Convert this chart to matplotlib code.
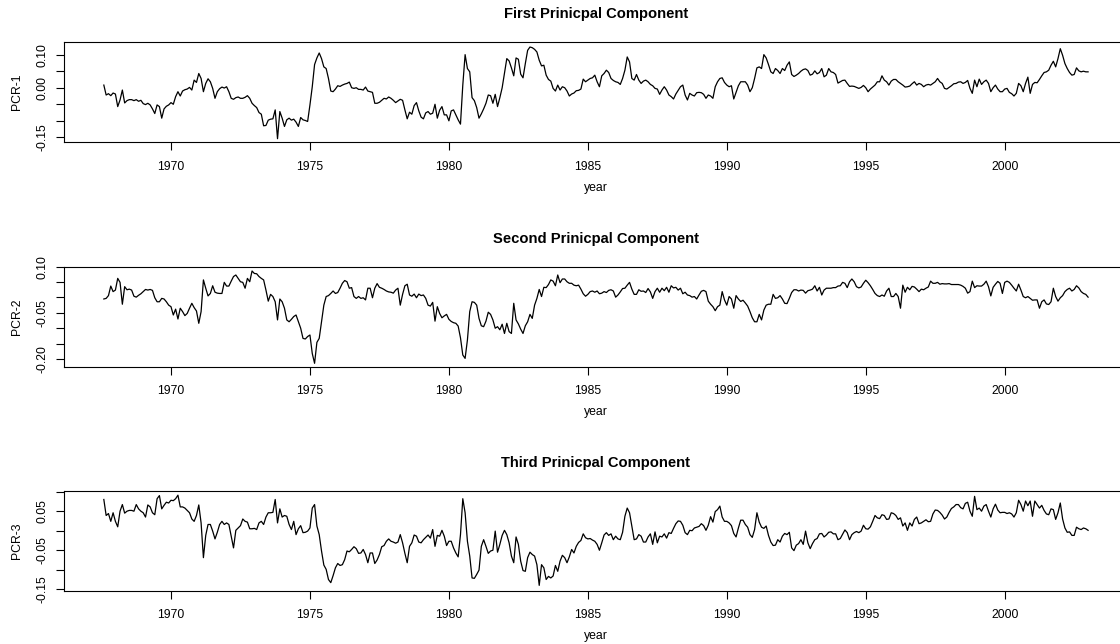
import numpy as np
import matplotlib
matplotlib.use("Agg")
import matplotlib.pyplot as plt

plt.rcParams['font.family'] = ['Liberation Sans', 'DejaVu Sans']
plt.rcParams['axes.unicode_minus'] = False

# monthly series, Aug 1967 .. Jan 2003
start_year = 1967 + 7 / 12

pc1 = [
    0.008, -0.022, -0.018, -0.024, -0.016,
    -0.019, -0.057, -0.037, -0.007, -0.046, -0.039, -0.036, -0.036, -0.039, -0.036, -0.041, -0.038,
    -0.048, -0.051, -0.047, -0.052, -0.064, -0.078, -0.052, -0.057, -0.092, -0.064, -0.056, -0.052,
    -0.045, -0.050, -0.027, -0.012, -0.025, -0.010, -0.006, -0.004, 0.001, -0.007, 0.023, 0.016,
    0.043, 0.028, -0.012, 0.013, 0.027, 0.018, -0.002, -0.032, -0.012, -0.003, 0.002, -0.001,
    0.003, -0.012, -0.032, -0.035, -0.030, -0.028, -0.032, -0.032, -0.029, -0.024, -0.032, -0.047,
    -0.054, -0.060, -0.075, -0.080, -0.115, -0.114, -0.098, -0.095, -0.094, -0.067, -0.154, -0.072,
    -0.092, -0.117, -0.097, -0.092, -0.098, -0.095, -0.104, -0.117, -0.090, -0.097, -0.099, -0.102,
    -0.052, 0.003, 0.070, 0.090, 0.105, 0.088, 0.063, 0.058, 0.028, -0.010, -0.012, -0.004,
    0.006, 0.004, 0.008, 0.011, 0.013, 0.017, 0.000, -0.002, 0.000, -0.005, -0.005, -0.007,
    0.002, -0.010, -0.012, -0.014, -0.047, -0.047, -0.044, -0.038, -0.032, -0.034, -0.028, -0.032,
    -0.038, -0.045, -0.040, -0.035, -0.038, -0.067, -0.094, -0.074, -0.080, -0.054, -0.045, -0.070,
    -0.089, -0.094, -0.076, -0.072, -0.080, -0.077, -0.050, -0.092, -0.068, -0.057, -0.082, -0.082,
    -0.100, -0.070, -0.067, -0.082, -0.097, -0.110, 0.008, 0.100, 0.058, 0.048, -0.030, -0.039,
    -0.060, -0.092, -0.079, -0.064, -0.047, -0.022, -0.024, -0.047, -0.020, -0.057, -0.030, 0.000,
    0.043, 0.088, 0.081, 0.060, 0.036, 0.090, 0.086, 0.041, 0.030, 0.073, 0.113, 0.123,
    0.121, 0.116, 0.108, 0.083, 0.066, 0.068, 0.038, 0.025, 0.020, -0.002, -0.010, 0.008,
    -0.007, 0.003, 0.000, -0.010, -0.025, -0.019, -0.016, -0.009, -0.008, -0.004, 0.026, 0.018,
    0.023, 0.028, 0.030, 0.038, 0.018, 0.003, 0.036, 0.043, 0.053, 0.046, 0.028, 0.022,
    0.018, 0.016, 0.010, 0.028, 0.053, 0.093, 0.078, 0.028, 0.023, 0.040, 0.023, 0.013,
    0.020, 0.023, 0.018, 0.010, 0.006, -0.002, -0.004, -0.020, -0.007, 0.003, -0.007, -0.022,
    -0.027, -0.034, -0.019, -0.008, 0.003, 0.008, -0.022, -0.037, -0.017, -0.022, -0.025, -0.015,
    -0.014, -0.015, -0.020, -0.032, -0.022, -0.025, -0.032, 0.003, 0.018, 0.028, 0.030, 0.016,
    0.008, 0.003, 0.006, -0.034, -0.014, 0.006, 0.018, 0.018, 0.018, 0.008, -0.012, 0.000,
    0.028, 0.060, 0.063, 0.058, 0.100, 0.090, 0.070, 0.048, 0.043, 0.058, 0.052, 0.043,
    0.058, 0.052, 0.068, 0.078, 0.040, 0.034, 0.038, 0.043, 0.050, 0.055, 0.057, 0.052,
    0.038, 0.041, 0.051, 0.042, 0.046, 0.058, 0.033, 0.038, 0.058, 0.048, 0.046, 0.040,
    0.014, 0.018, 0.022, 0.023, 0.013, 0.004, 0.005, 0.004, 0.001, -0.002, 0.001, 0.007,
    0.000, -0.012, -0.004, 0.002, 0.008, 0.018, 0.018, 0.036, 0.023, 0.018, 0.008, 0.020,
    0.025, 0.025, 0.018, 0.013, 0.008, 0.002, 0.003, 0.005, 0.012, 0.018, 0.008, 0.013,
    0.010, 0.003, 0.008, 0.010, 0.008, 0.013, 0.018, 0.028, 0.018, 0.013, -0.002, -0.004,
    0.001, 0.006, 0.012, 0.013, 0.017, 0.018, 0.013, 0.016, 0.022, -0.002, -0.017, 0.023,
    0.003, 0.026, 0.010, 0.018, 0.023, 0.013, -0.012, 0.000, 0.008, -0.004, -0.012, -0.012,
    -0.004, -0.002, -0.014, -0.018, -0.025, -0.017, 0.013, 0.006, -0.012, 0.013, 0.032, -0.017,
    0.010, 0.016, 0.015, 0.025, 0.036, 0.046, 0.048, 0.053, 0.068, 0.080, 0.063, 0.088,
    0.118, 0.098, 0.073, 0.058, 0.046, 0.038, 0.040, 0.060, 0.051, 0.048, 0.050, 0.048,
    0.048,
]

pc2 = [
    -0.005, -0.003, 0.006, 0.037, 0.019,
    0.024, 0.062, 0.049, -0.022, 0.035, 0.025, 0.027, 0.024, 0.004, 0.001, 0.007, 0.012,
    0.019, 0.026, 0.024, 0.026, 0.023, -0.001, -0.014, -0.014, -0.003, -0.005, -0.014, -0.025,
    -0.030, -0.057, -0.038, -0.070, -0.035, -0.046, -0.059, -0.052, -0.035, -0.019, -0.033, -0.044,
    -0.084, -0.046, 0.057, 0.030, 0.005, 0.013, 0.038, 0.017, 0.014, 0.013, 0.013, 0.049,
    0.037, 0.037, 0.053, 0.068, 0.073, 0.062, 0.051, 0.049, 0.030, 0.062, 0.051, 0.086,
    0.078, 0.077, 0.068, 0.062, 0.057, 0.024, -0.012, 0.010, 0.003, -0.014, -0.073, -0.005,
    -0.014, -0.035, -0.073, -0.079, -0.071, -0.062, -0.057, -0.079, -0.100, -0.133, -0.135, -0.127,
    -0.122, -0.182, -0.214, -0.146, -0.133, -0.079, -0.025, 0.003, 0.006, 0.013, 0.021, 0.013,
    0.016, 0.030, 0.046, 0.055, 0.051, 0.030, 0.032, 0.003, -0.003, 0.003, -0.003, -0.001,
    -0.008, 0.030, 0.030, -0.001, 0.030, 0.045, 0.033, 0.030, 0.026, 0.021, 0.018, 0.017,
    0.014, 0.024, 0.030, -0.025, 0.010, 0.038, 0.043, 0.008, 0.004, 0.011, -0.001, 0.011,
    0.006, 0.008, -0.003, -0.025, -0.028, -0.016, -0.077, -0.030, -0.052, -0.066, -0.060, -0.055,
    -0.071, -0.078, -0.082, -0.084, -0.093, -0.131, -0.187, -0.198, -0.138, -0.046, -0.014, -0.016,
    -0.025, -0.068, -0.092, -0.095, -0.077, -0.048, -0.055, -0.073, -0.100, -0.095, -0.105, -0.087,
    -0.117, -0.084, -0.111, -0.117, -0.019, -0.073, -0.086, -0.103, -0.117, -0.092, -0.079, -0.055,
    -0.068, -0.025, -0.003, 0.026, 0.003, 0.033, 0.032, 0.042, 0.057, 0.053, 0.038, 0.073,
    0.048, 0.060, 0.060, 0.051, 0.046, 0.046, 0.040, 0.038, 0.040, 0.027, 0.012, 0.004,
    0.010, 0.019, 0.021, 0.017, 0.021, 0.012, 0.014, 0.019, 0.016, 0.023, 0.025, 0.021,
    0.001, 0.008, 0.018, 0.029, 0.030, 0.040, 0.049, 0.027, 0.010, 0.010, 0.025, 0.020,
    0.021, 0.016, 0.029, 0.018, -0.003, 0.019, 0.030, 0.017, 0.030, 0.022, 0.033, 0.017,
    0.038, 0.031, 0.033, 0.024, 0.030, 0.012, 0.017, 0.008, 0.006, 0.001, 0.003, -0.005,
    0.008, 0.020, 0.023, 0.019, -0.012, -0.022, -0.030, -0.043, -0.030, -0.025, 0.019, -0.008,
    -0.025, 0.003, -0.005, -0.035, 0.006, -0.005, -0.013, -0.009, -0.018, -0.028, -0.046, -0.066,
    -0.079, -0.079, -0.055, -0.073, -0.041, -0.025, -0.022, -0.022, 0.010, -0.003, -0.001, 0.006,
    -0.005, -0.019, -0.020, -0.003, 0.016, 0.025, 0.025, 0.021, 0.024, 0.023, 0.014, 0.022,
    0.024, 0.027, 0.038, 0.021, 0.033, 0.008, 0.024, 0.030, 0.030, 0.030, 0.032, 0.032,
    0.037, 0.038, 0.049, 0.046, 0.032, 0.051, 0.060, 0.051, 0.035, 0.031, 0.034, 0.046,
    0.056, 0.048, 0.038, 0.026, 0.013, 0.006, 0.003, 0.008, 0.004, 0.021, 0.030, 0.003,
    0.003, 0.013, 0.003, -0.035, 0.040, 0.017, 0.033, 0.025, 0.036, 0.034, 0.027, 0.019,
    0.027, 0.025, 0.030, 0.034, 0.053, 0.046, 0.046, 0.049, 0.043, 0.045, 0.044, 0.044,
    0.045, 0.042, 0.042, 0.042, 0.042, 0.040, 0.036, 0.030, 0.014, 0.019, 0.053, 0.032,
    0.038, 0.037, 0.037, 0.043, 0.053, 0.035, 0.005, 0.033, 0.043, 0.052, 0.046, 0.013,
    0.049, 0.053, 0.049, 0.040, 0.030, 0.021, 0.043, 0.024, 0.003, -0.001, 0.003, -0.003,
    -0.009, -0.008, -0.008, -0.035, -0.014, -0.008, -0.021, -0.023, -0.014, 0.030, 0.003, -0.012,
    -0.001, 0.006, 0.019, 0.026, 0.030, 0.021, 0.026, 0.038, 0.031, 0.019, 0.013, 0.010,
    0.001,
]

pc3 = [
    0.080, 0.039, 0.044, 0.024, 0.046,
    0.024, 0.010, 0.050, 0.067, 0.045, 0.050, 0.052, 0.052, 0.050, 0.067, 0.056, 0.050,
    0.046, 0.035, 0.066, 0.061, 0.046, 0.041, 0.082, 0.090, 0.056, 0.065, 0.073, 0.071,
    0.078, 0.077, 0.082, 0.091, 0.061, 0.061, 0.058, 0.052, 0.046, 0.030, 0.024, 0.039,
    0.066, 0.020, -0.069, -0.012, 0.016, 0.016, -0.001, -0.021, -0.004, 0.016, 0.024, 0.016,
    0.020, 0.016, -0.014, -0.044, 0.001, 0.007, 0.013, 0.030, 0.024, 0.022, 0.005, 0.005,
    0.006, 0.003, 0.020, 0.024, 0.016, 0.035, 0.046, 0.046, 0.047, 0.080, 0.020, 0.056,
    0.035, 0.039, 0.037, 0.016, 0.003, 0.024, -0.010, 0.005, 0.013, -0.005, -0.004, -0.001,
    0.007, 0.058, 0.067, 0.012, -0.010, -0.052, -0.088, -0.099, -0.125, -0.133, -0.115, -0.095,
    -0.084, -0.089, -0.087, -0.074, -0.052, -0.054, -0.048, -0.041, -0.046, -0.058, -0.057, -0.048,
    -0.061, -0.082, -0.057, -0.057, -0.084, -0.075, -0.061, -0.041, -0.038, -0.027, -0.021, -0.027,
    -0.029, -0.032, -0.029, -0.010, -0.031, -0.058, -0.082, -0.040, -0.031, -0.011, -0.014, -0.029,
    -0.031, -0.023, -0.017, -0.011, -0.019, 0.003, -0.040, -0.012, -0.014, 0.001, -0.014, -0.038,
    -0.027, -0.027, -0.044, -0.057, -0.067, -0.010, 0.082, 0.046, -0.027, -0.065, -0.121, -0.122,
    -0.112, -0.101, -0.040, -0.023, -0.040, -0.058, -0.052, -0.050, -0.001, -0.055, -0.035, -0.012,
    0.001, -0.010, -0.031, -0.065, -0.082, -0.016, -0.035, -0.078, -0.102, -0.104, -0.069, -0.055,
    -0.061, -0.065, -0.087, -0.140, -0.087, -0.095, -0.125, -0.117, -0.121, -0.116, -0.089, -0.104,
    -0.078, -0.063, -0.069, -0.082, -0.067, -0.048, -0.057, -0.040, -0.030, -0.025, -0.008, -0.018,
    -0.021, -0.020, -0.024, -0.027, -0.035, -0.050, -0.031, -0.011, -0.005, -0.012, -0.008, -0.023,
    -0.014, -0.021, -0.023, -0.004, 0.037, 0.058, 0.046, 0.012, -0.023, -0.021, -0.010, -0.014,
    -0.029, -0.029, -0.016, -0.008, -0.035, -0.003, -0.031, -0.014, -0.016, -0.008, -0.019, -0.005,
    -0.007, 0.006, 0.018, 0.025, 0.024, 0.014, -0.005, -0.010, 0.001, 0.000, 0.007, 0.009,
    0.011, 0.018, 0.013, 0.001, 0.014, 0.036, 0.022, 0.049, 0.054, 0.063, 0.035, 0.024,
    0.024, 0.020, 0.013, -0.007, -0.016, 0.007, 0.027, 0.027, 0.016, 0.009, -0.010, -0.017,
    0.003, 0.046, 0.022, 0.009, 0.006, 0.012, -0.012, -0.029, -0.038, -0.037, -0.023, -0.029,
    -0.014, -0.007, -0.010, -0.004, -0.044, -0.051, -0.037, -0.033, -0.023, -0.035, -0.001, -0.031,
    -0.046, -0.033, -0.023, -0.020, -0.008, -0.007, -0.016, -0.011, -0.004, -0.003, -0.008, -0.008,
    -0.023, -0.020, -0.009, 0.002, -0.005, -0.023, -0.010, -0.005, -0.002, -0.005, -0.001, 0.014,
    0.005, 0.004, 0.010, 0.024, 0.039, 0.033, 0.031, 0.041, 0.039, 0.029, 0.030, 0.046,
    0.044, 0.039, 0.029, 0.033, 0.012, 0.020, 0.001, 0.020, 0.012, 0.029, 0.035, 0.018,
    0.020, 0.024, 0.028, 0.023, 0.024, 0.043, 0.053, 0.052, 0.047, 0.040, 0.030, 0.035,
    0.047, 0.057, 0.061, 0.067, 0.067, 0.059, 0.056, 0.070, 0.073, 0.050, 0.037, 0.088,
    0.054, 0.058, 0.050, 0.063, 0.067, 0.050, 0.035, 0.056, 0.068, 0.053, 0.046, 0.047,
    0.047, 0.044, 0.046, 0.043, 0.035, 0.046, 0.078, 0.067, 0.050, 0.076, 0.064, 0.076,
    0.037, 0.076, 0.067, 0.058, 0.065, 0.052, 0.043, 0.041, 0.056, 0.054, 0.029, 0.046,
    0.071, 0.030, 0.007, -0.004, -0.003, -0.012, -0.012, 0.009, 0.005, 0.003, 0.007, 0.005,
    0.001,
]

titles = ["First Prinicpal Component", "Second Prinicpal Component", "Third Prinicpal Component"]
ylabels = ["PCR-1", "PCR-2", "PCR-3"]
year_ticks = [1970, 1975, 1980, 1985, 1990, 1995, 2000]

ytick_vals = [
    [-0.15, -0.10, -0.05, 0.00, 0.05, 0.10],
    [-0.20, -0.15, -0.10, -0.05, 0.00, 0.05, 0.10],
    [-0.15, -0.10, -0.05, 0.00, 0.05, 0.10],
]
ytick_text = [
    ["-0.15", "", "", "0.00", "", "0.10"],
    ["-0.20", "", "", "-0.05", "", "", "0.10"],
    ["-0.15", "", "-0.05", "", "0.05", ""],
]
ylims = [(-0.165, 0.139), (-0.225, 0.100), (-0.1536, 0.1026)]

# [bottom, height] of each panel in figure fractions
rows = [(0.7790, 0.1562), (0.4306, 0.1553), (0.0828, 0.1553)]

fig = plt.figure(figsize=(11.2, 6.44), dpi=100)

for i, series in enumerate([pc1, pc2, pc3]):
    bottom, height = rows[i]
    ax = fig.add_axes([0.05714, bottom, 0.9496, height])
    t = start_year + np.arange(len(series)) / 12
    ax.plot(t, series, color="black", linewidth=0.9)

    ax.set_xlim(1966.15, 2004.42)
    ax.set_ylim(*ylims[i])
    ax.set_xticks(year_ticks)
    ax.set_xticklabels([str(y) for y in year_ticks])
    ax.set_yticks(ytick_vals[i])
    ax.set_yticklabels(ytick_text[i])

    for sp in ax.spines.values():
        sp.set_linewidth(0.8)
        sp.set_color("black")

    ax.tick_params(direction="out", length=5.5, width=0.8, labelsize=8.8, colors="black")
    ax.tick_params(axis="x", pad=8)
    ax.tick_params(axis="y", pad=5.5, labelrotation=90)
    for lab in ax.get_yticklabels():
        lab.set_va("center")

    ax.set_title(titles[i], fontsize=10.6, fontweight="bold", pad=17)
    ax.set_xlabel("year", fontsize=8.8)
    ax.xaxis.set_label_coords(0.5, -0.393)
    ax.set_ylabel(ylabels[i], fontsize=8.8)
    ax.yaxis.set_label_coords(-0.039, 0.5)

fig.savefig("out.png", dpi=100)
